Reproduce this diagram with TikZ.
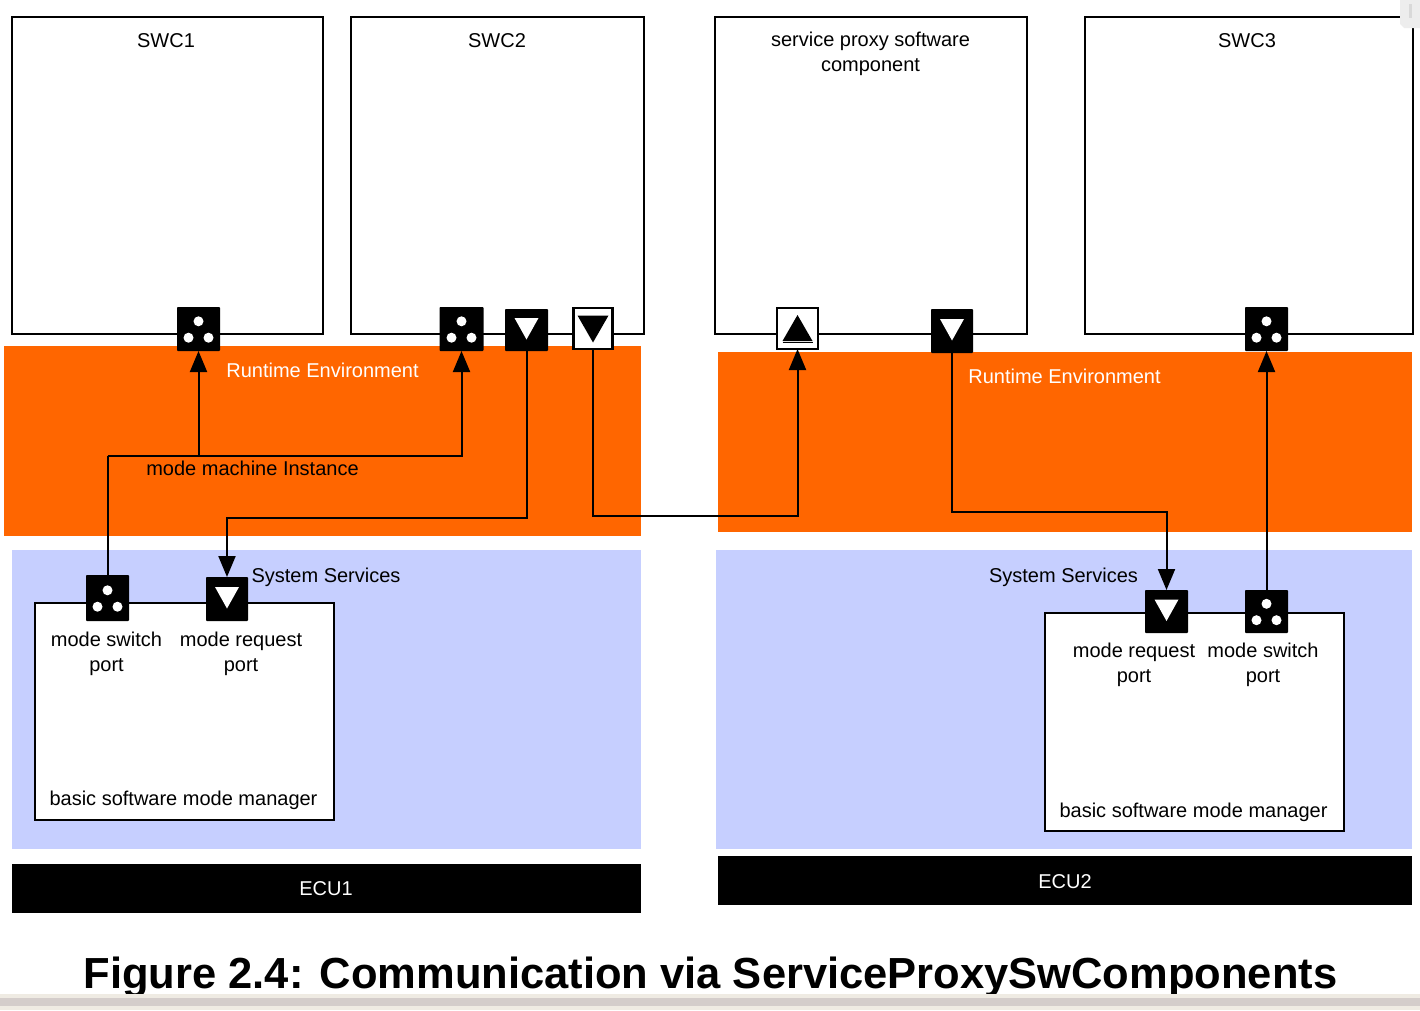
\documentclass[tikz,border=0pt]{standalone}
\usepackage{fontspec}
\setmainfont{Liberation Sans}
\usetikzlibrary{arrows.meta,calc}
\definecolor{rte}{HTML}{FF6600}
\definecolor{svc}{HTML}{C6CFFF}
\definecolor{bandlight}{HTML}{EFEBE3}
\definecolor{bandmid}{HTML}{D4CDCB}
\newcommand{\dotsport}[1]{%
  \fill[white] ($(#1.center)+(0,-7.7)$) circle (5);
  \fill[white] ($(#1.center)+(-10,8.7)$) circle (5);
  \fill[white] ($(#1.center)+(10,8.7)$) circle (5);}
\newcommand{\wdown}[1]{\fill[white] ($(#1.center)+(-12,-12)$) -- ++(24,0) -- ++(-12,21.5) -- cycle;}
\newcommand{\bdown}[1]{\fill[black] ($(#1.center)+(-15.5,-13)$) -- ++(31,0) -- ++(-15.5,27) -- cycle;}
\newcommand{\bup}[1]{\fill[black] ($(#1.center)+(-15,12.5)$) -- ++(30,0) -- ++(-15,-26) -- cycle;
  \draw[black,line width=1.2pt] ($(#1.center)+(-15,14)$) -- ++(30,0);}
\tikzset{
  x=1pt,y=-1pt,
  every node/.style={font=\fontsize{20}{25}\selectfont,inner sep=0pt,outer sep=0pt},
  sized/.style 2 args={minimum width=#1 pt,minimum height=#2 pt},
  area/.style={anchor=north west,draw=none,fill=#1},
  swc/.style={anchor=north west,draw=black,line width=2pt,fill=white},
  blackport/.style={draw=none,fill=black,anchor=center,rounded corners=0.8pt},
  whiteport/.style={draw=black,line width=2.2pt,fill=white,anchor=center},
  link/.style={draw=black,line width=2pt},
  linka/.style={link,-{Triangle[length=21pt,width=17pt]}},
  lbl/.style={align=center,text=black},
}
\begin{document}
\begin{tikzpicture}
\useasboundingbox (0,0) rectangle (1420,1010);
\fill[white] (0,0) rectangle (1420,1010);
% areas
\node[area=rte,sized={637}{190}] (rteA) at (4,346) {};
\node[area=rte,sized={694}{180}] (rteB) at (718,352) {};
\node[area=svc,sized={629}{299}] (svcA) at (12,550) {};
\node[area=svc,sized={696}{299}] (svcB) at (716,550) {};
\node[area=black,sized={629}{49}] (ecuA) at (12,864) {};
\node[area=black,sized={694}{49}] (ecuB) at (718,856) {};
% boxes
\node[swc,sized={311}{317}] (swcA) at (12,17) {};
\node[swc,sized={293}{317}] (swcB) at (351,17) {};
\node[swc,sized={312}{317}] (proxy) at (715,17) {};
\node[swc,sized={328}{317}] (swcC) at (1085,17) {};
\node[swc,sized={298.5}{217}] (bswA) at (35,603) {};
\node[swc,sized={299}{218}] (bswB) at (1045,613) {};
% ports
\node[blackport,sized={43}{44}] (pA) at (198.5,329) {};
\node[blackport,sized={44}{44}] (pB) at (461.5,329) {};
\node[blackport,sized={43}{42}] (pBr) at (526.5,330) {};
\node[whiteport,sized={39}{41}] (pBw) at (593,328.5) {};
\node[whiteport,sized={41}{41}] (pX) at (797.5,328.5) {};
\node[blackport,sized={42}{44}] (pXr) at (952,331) {};
\node[blackport,sized={43}{44}] (pC) at (1266.5,329) {};
\node[blackport,sized={43}{46}] (mA) at (107.5,598) {};
\node[blackport,sized={42}{44}] (rA) at (227,599) {};
\node[blackport,sized={43}{43}] (rB) at (1166.5,611.5) {};
\node[blackport,sized={43}{43}] (mB) at (1266.5,611.5) {};
\dotsport{pA}\dotsport{pB}\dotsport{pC}\dotsport{mA}\dotsport{mB}
\wdown{pBr}\wdown{pXr}\wdown{rA}\wdown{rB}
\bdown{pBw}\bup{pX}
% connectors
\coordinate (bus) at (107.5,456);
\coordinate (busB) at (526.5,518);
\coordinate (busW) at (593,516);
\coordinate (busX) at (952,512);
\draw[link] (mA.north) -- (bus);
\draw[linka] (bus) -| (pB.south);
\draw[linka] (pA.south |- bus) -- (pA.south);
\draw[linka] (pBr.south) -- (busB) -| (rA.north);
\draw[linka] (pBw.south) -- (busW) -| (pX.south);
\draw[linka] (pXr.south) -- (busX) -| (rB.north);
\draw[linka] (mB.north) -- (pC.south);
% labels
\node[lbl] (tA) at (166,41) {SWC1};
\node[lbl] (tB) at (497,41) {SWC2};
\node[lbl] (tX) at (870.5,53.5) {service proxy software\\component};
\node[lbl] (tC) at (1247,41) {SWC3};
\node[lbl,text=white] (rtA) at (322.5,370.5) {Runtime Environment};
\node[lbl,text=white] (rtB) at (1064.5,376.5) {Runtime Environment};
\node[lbl] (mmi) at (252.5,468.5) {mode machine Instance};
\node[lbl] (ssA) at (326,577) {System Services};
\node[lbl] (ssB) at (1063.5,577) {System Services};
\node[lbl] (l1) at (106.5,654) {mode switch\\port};
\node[lbl] (l2) at (241,654) {mode request\\port};
\node[lbl] (l3) at (1134,665) {mode request\\port};
\node[lbl] (l4) at (1263,665) {mode switch\\port};
\node[lbl] (bA) at (183.5,800) {basic software mode manager};
\node[lbl] (bB) at (1193.5,812) {basic software mode manager};
\node[lbl,text=white] (eA) at (326,888.5) {ECU1};
\node[lbl,text=white] (eB) at (1065,882) {ECU2};
\node[lbl,font=\fontsize{43.5}{50}\selectfont\bfseries] (cap) at (710.5,977) {Figure 2.4: Communication via ServiceProxySwComponents};
% window chrome
\fill[white!93!black] (1400,0) -- (1420,0) -- (1420,28) -- (1404,28) -- (1400,24) -- cycle;
\fill[white!85!black] (1409,4) rectangle (1412,18);
\fill[bandlight] (0,994) rectangle (1420,1010);
\fill[bandmid] (0,998) rectangle (1420,1006);
\end{tikzpicture}
\end{document}
